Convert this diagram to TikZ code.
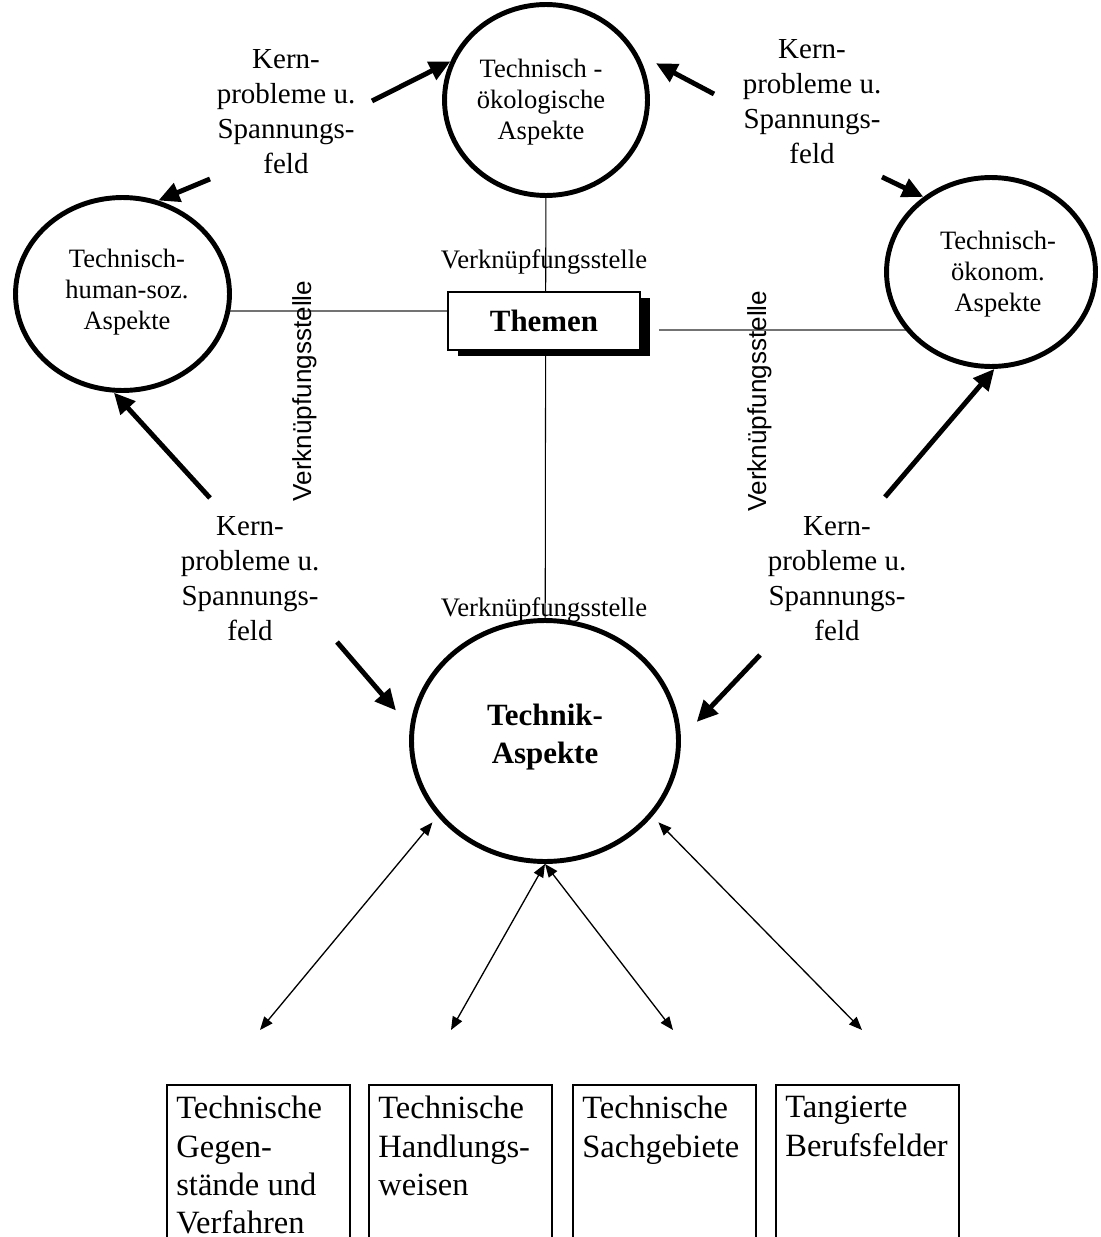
\documentclass[tikz,border=0pt]{standalone}
\usepackage{fontspec}
\setmainfont{Liberation Serif}
\setsansfont{Liberation Sans}
\usetikzlibrary{shapes.geometric,arrows.meta,backgrounds,shadows,calc}
\begin{document}
\begin{tikzpicture}[x=0.02cm,y=-0.02cm,
  aspect/.style={ellipse, draw, line width=2.8pt, fill=white, inner sep=0pt},
  aspecttext/.style={align=center, inner sep=0pt, anchor=north,
    font=\fontsize{15.1}{17.6}\selectfont},
  kern/.style={align=center, inner sep=0pt, anchor=north,
    font=\fontsize{16.5}{19.9}\selectfont},
  vlink/.style={line width=0.6pt},
  hlink/.style={line width=0.6pt, draw=black!55},
  thickarrow/.style={line width=2.8pt, -{Triangle[length=12pt,width=11pt]}},
  thinarrow/.style={line width=0.75pt,
    {Triangle[length=7.5pt,width=6pt]}-{Triangle[length=7.5pt,width=6pt]}},
  linklabel/.style={inner sep=0pt, anchor=base, font=\fontsize{15.2}{18}\selectfont},
  rotlabel/.style={inner sep=0pt, anchor=base, rotate=90,
    font=\sffamily\fontsize{14.85}{18}\selectfont},
  themebox/.style={draw, line width=1pt, fill=white, inner sep=0pt,
    minimum width=3.84cm, minimum height=1.16cm,
    font=\bfseries\fontsize{17.6}{21}\selectfont,
    drop shadow={shadow xshift=5.7pt, shadow yshift=-3.4pt, opacity=1, fill=black}},
  catbox/.style={draw, line width=1pt, inner sep=0pt, anchor=north west,
    minimum width=3.66cm, minimum height=4cm},
  cattext/.style={align=left, inner sep=0pt, anchor=north west,
    font=\fontsize{18.5}{21.8}\selectfont}
]
\useasboundingbox (0,0) rectangle (1100,1237);
\clip (0,0) rectangle (1100,1237);

% the four aspect ellipses
\node[aspect, minimum width=4.06cm, minimum height=3.82cm] (topE) at (546,100) {};
\node[aspect, minimum width=4.28cm, minimum height=3.86cm] (leftE) at (122.5,294) {};
\node[aspect, minimum width=4.18cm, minimum height=3.78cm] (rightE) at (991,272) {};
\node[aspect, minimum width=5.34cm, minimum height=4.82cm] (botE) at (545,741) {};

\node[aspecttext] (topT) at (541,59) {Technisch -\\ökologische\\Aspekte};
\node[aspecttext] (leftT) at (127,249) {Technisch-\\human-soz.\\Aspekte};
\node[aspecttext] (rightT) at (998,231) {Technisch-\\ökonom.\\Aspekte};
\node[aspecttext, font=\bfseries\fontsize{17.6}{21.6}\selectfont] (botT) at (545,704) {Technik-\\Aspekte};

% central box with its shadow
\node[themebox] (theme) at (544,321) {Themen};

% connecting lines behind the shapes
\coordinate (hlL) at (122,311);
\coordinate (hrR) at (991,330);
\begin{scope}[on background layer]
  \draw[vlink] (topE.center) -- (botE.center);
  \draw[hlink] (hlL) -- (hlL -| theme.west);
  \draw[hlink] ($(theme.east |- hrR)+(18,0)$) -- (hrR);
\end{scope}

% link labels
\node[linklabel] (vkTop) at (544,268) {Verknüpfungsstelle};
\node[linklabel] (vkBot) at (544,616) {Verknüpfungsstelle};
\node[rotlabel] (vkLeft) at (311,391) {Verknüpfungsstelle};
\node[rotlabel] (vkRight) at (766,401) {Verknüpfungsstelle};

% labels on the thick arrows
\node[kern] (kTL) at (286,49) {Kern-\\probleme u.\\Spannungs-\\feld};
\node[kern] (kTR) at (812,39) {Kern-\\probleme u.\\Spannungs-\\feld};
\node[kern] (kBL) at (250,516) {Kern-\\probleme u.\\Spannungs-\\feld};
\node[kern] (kBR) at (837,516) {Kern-\\probleme u.\\Spannungs-\\feld};

% thick arrows
\coordinate (a1) at (372,101);
\coordinate (a2) at (210,179);
\coordinate (a3) at (714,94);
\coordinate (a4) at (882,177);
\coordinate (a5) at (210,498);
\coordinate (a6) at (337,642);
\coordinate (a7) at (885,497);
\coordinate (a8) at (760,655);
\draw[thickarrow] (a1) -- (topE.158);
\draw[thickarrow] (a2) -- (leftE.69);
\draw[thickarrow, shorten >=0.42cm] (a3) -- (topE.27);
\draw[thickarrow] (a4) -- (rightE.132);
\draw[thickarrow] (a5) -- (leftE.265);
\draw[thickarrow, shorten >=0.43cm] (a6) -- (botE.174);
\draw[thickarrow] (a7) -- (rightE.272);
\draw[thickarrow, shorten >=0.46cm] (a8) -- (botE.1);

% thin double arrows to the categories
\coordinate (c1) at (260,1030);
\coordinate (c2) at (451,1030);
\coordinate (c3) at (673,1030);
\coordinate (c4) at (862,1030);
\draw[thinarrow, shorten <=0.16cm] (botE.215) -- (c1);
\draw[thinarrow] (botE.south) -- (c2);
\draw[thinarrow] (botE.south) -- (c3);
\draw[thinarrow, shorten <=0.17cm] (botE.325) -- (c4);

% category boxes
\node[catbox] (b1) at (166,1084) {};
\node[catbox] (b2) at (368,1084) {};
\node[catbox] (b3) at (572,1084) {};
\node[catbox] (b4) at (775,1084) {};
\node[cattext] (t1) at ($(b1.north west)+(10,12)$) {Technische\\Gegen-\\stände und\\Verfahren};
\node[cattext] (t2) at ($(b2.north west)+(10,12)$) {Technische\\Handlungs-\\weisen};
\node[cattext] (t3) at ($(b3.north west)+(10,12)$) {Technische\\Sachgebiete};
\node[cattext] (t4) at ($(b4.north west)+(10,12)$) {Tangierte\\Berufsfelder};
\end{tikzpicture}
\end{document}
